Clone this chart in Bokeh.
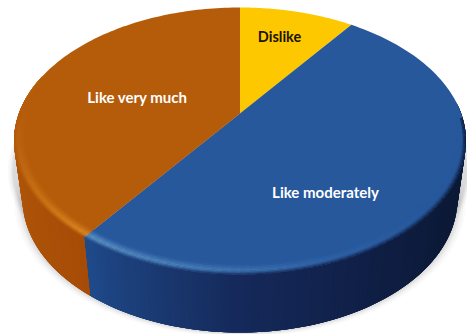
import numpy as np
from bokeh.core.properties import value
from bokeh.embed import file_html
from bokeh.models import ColumnDataSource, Range1d
from bokeh.plotting import figure
from bokeh.resources import INLINE

# Pie contents, clockwise from twelve o'clock
categories = ["Dislike", "Like moderately", "Like very much"]
shares = [10, 50, 40]
top_colors = ["#FDC800", "#27589C", "#B55C0B"]
label_colors = ["#1A1400", "#FFFFFF", "#FFFFFF"]
label_sizes = ["14.5px", "15px", "15px"]
label_x = [279, 325, 137]
label_y = [36, 191, 96]

W, H = 467, 334
# Apex of the pie and the extents of its tilted top face
CX, CY = 239.5, 113.0
TOP_BACK, TOP_FRONT, HALF_W = 106.0, 161.0, 226.0
DEPTH = 58.0
BASE_SCALE = 0.962

B = 2 / (1 / TOP_BACK + 1 / TOP_FRONT)
K = B / TOP_BACK - 1
A = HALF_W * np.sqrt(1 - K * K)


def project(theta_deg, r=1.0):
    """Perspective view of a point on the disc; theta is clockwise from the back."""
    t = np.radians(theta_deg)
    u, v = r * np.sin(t), r * np.cos(t)
    d = 1 + K * v
    return CX + A * u / d, CY - B * v / d


def hex_rgb(c):
    return np.array([int(c[i:i + 2], 16) for i in (1, 3, 5)], dtype=float)


def mix(c1, c2, f):
    f = float(np.clip(f, 0, 1))
    r = hex_rgb(c1) * (1 - f) + hex_rgb(c2) * f
    return "#%02x%02x%02x" % tuple(int(round(x)) for x in r)


def ramp(x, xs, cs):
    """Piecewise colour ramp along xs (ascending)."""
    if x <= xs[0]:
        return cs[0]
    for i in range(len(xs) - 1):
        if x <= xs[i + 1]:
            return mix(cs[i], cs[i + 1], (x - xs[i]) / (xs[i + 1] - xs[i]))
    return cs[-1]


edges = np.concatenate([[0], np.cumsum(shares)]) * 3.6
split = edges[2]  # front boundary between the two large slices

p = figure(width=W, height=H, output_backend="svg", toolbar_location=None,
           x_range=Range1d(0, W), y_range=Range1d(H, 0), min_border=0,
           outline_line_color=None, background_fill_color="white", border_fill_color="white")
p.axis.visible = False
p.grid.visible = False

# Soft drop shadow hugging the base
th_all = np.arange(0, 360.5, 2.0)
rim_x, rim_y = project(th_all)
base_x = CX + (rim_x - CX) * BASE_SCALE
base_y = rim_y + DEPTH
for grow, alpha in [(8, .04), (6, .05), (4, .07), (2.5, .08), (1, .08)]:
    sx = CX + (base_x - CX) * (1 + grow / 217)
    sy = base_y + grow * 0.55
    p.patch(sx.tolist(), sy.tolist(), fill_color="#808080", fill_alpha=alpha, line_color=None)
    tx = CX + (rim_x - CX) * (1 + grow / 290)
    p.patch(tx.tolist(), (rim_y + 30).tolist(), fill_color="#808080", fill_alpha=alpha, line_color=None)

# Outer wall, as overlapping strips painted in sequence so no seams show
blue_wall = (lambda a: ramp(a, [125, 150, 180, 216],
                            ["#0C1A38", "#0F1E44", "#15295A", "#1F4A8A"]))
orange_wall = (lambda a: ramp(a, [216, 245, 285], ["#A64C07", "#AD5409", "#B96011"]))
step = 1.0
for seg_start, seg_end, wall in [(85.0, split, blue_wall), (288.0, split, orange_wall)]:
    n = int(abs(seg_end - seg_start) / step)
    angles = np.linspace(seg_start, seg_end, n + 1)
    xs, ys, cols = [], [], []
    for a0, a1 in zip(angles[:-1], angles[1:]):
        x0, y0 = project(a0)
        x1, y1 = project(a1)
        xs.append([x0, x1, CX + (x1 - CX) * BASE_SCALE, CX + (x0 - CX) * BASE_SCALE])
        ys.append([y0, y1, y1 + DEPTH, y0 + DEPTH])
        cols.append(wall((a0 + a1) / 2))
    # every strip is extended over the next one, so the later strip hides the shared edge
    ex, ey = [], []
    for i in range(len(xs)):
        j = min(i + 1, len(xs) - 1)
        ex.append([xs[i][0], xs[j][1], xs[j][2], xs[i][3]])
        ey.append([ys[i][0], ys[j][1], ys[j][2], ys[i][3]])
    p.patches(ex[::-1], ey[::-1], fill_color=cols[::-1], line_color=None)
    p.patches(ex, ey, fill_color=cols, line_color=None)

# Top face of each slice
for i in range(len(shares)):
    arc = np.linspace(edges[i], edges[i + 1], 120)
    ax, ay = project(arc)
    p.patch([CX] + ax.tolist(), [CY] + ay.tolist(), fill_color=top_colors[i], line_color=None)

# Bevel where the top face rolls over into the wall
radii = [0.950, 0.958, 0.966, 0.974, 0.981, 0.987, 0.992, 0.996, 1.0]
xs, ys, cols = [], [], []
step = 2.0
for a in np.arange(92, 286, step):
    mid = a + step / 2
    blue = mid < split
    top = top_colors[1] if blue else top_colors[2]
    fade = np.clip(min(mid - 92, 286 - mid) / 25, 0, 1)
    if blue:
        wall = blue_wall(mid)
        glow = ramp(mid, [130, 160, 190, 216], ["#27589C", "#2F62A6", "#4A80B8", "#5F95C6"])
    else:
        wall = orange_wall(mid)
        glow = ramp(mid, [216, 232, 255, 280], ["#DD8C24", "#CC7716", "#BC6410", "#B55C0B"])
    for j in range(len(radii) - 1):
        r0, r1 = radii[j], radii[j + 1]
        f = (j + 0.5) / (len(radii) - 1)
        c = mix(top, glow, f / 0.5) if f < 0.5 else mix(glow, wall, (f - 0.5) / 0.5)
        c = mix(top, c, fade) if j < 5 else mix(mix(top, wall, f), c, fade)
        x00, y00 = project(a, r0)
        x01, y01 = project(a + step + 0.6, r0)
        x11, y11 = project(a + step + 0.6, r1)
        x10, y10 = project(a, r1)
        xs.append([x00, x01, x11, x10])
        ys.append([y00, y01, y11, y10])
        cols.append(c)
p.patches(xs, ys, fill_color=cols, line_color=None)

# Slice names
labels = ColumnDataSource(dict(x=label_x, y=label_y, text=categories, color=label_colors, size=label_sizes))
p.text(x="x", y="y", text="text", source=labels, text_color="color",
       text_align="center", text_baseline="middle",
       text_font=value("Lato"), text_font_size="size", text_font_style="bold")

open("out.html", "w").write(file_html(p, INLINE))
